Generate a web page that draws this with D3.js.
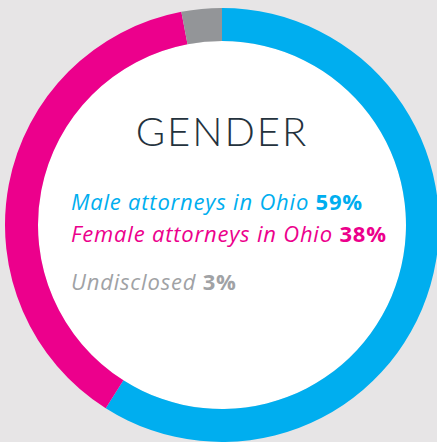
<!DOCTYPE html>
<html>
<head>
<meta charset="utf-8">
<script src="https://cdn.jsdelivr.net/npm/d3@7"></script>
<style>
  body { margin: 0; background: #e7e5e6; }
  svg { display: block; }
</style>
</head>
<body>
<div class="chart"></div>
<script>
// data
const categories = ["Male attorneys in Ohio", "Female attorneys in Ohio", "Undisclosed"];
const values = [59, 38, 3];
const colors = ["#00aeef", "#ec008c", "#939598"];
const textColors = ["#00aeef", "#ec008c", "#a0a2a5"];
const title = "GENDER";

const width = 437, height = 442;
const cx = 222, cy = 225;
const outerR = 217, innerR = 184;

const svg = d3.select(".chart").append("svg")
    .attr("width", width)
    .attr("height", height);

const g = svg.append("g")
    .attr("transform", `translate(${cx},${cy})`);

// white centre
g.append("circle")
    .attr("r", innerR)
    .attr("fill", "#ffffff");

const pie = d3.pie().sort(null).value(d => d.value);
const arc = d3.arc().innerRadius(innerR).outerRadius(outerR);

const data = categories.map((c, i) => ({ name: c, value: values[i], color: colors[i] }));

g.selectAll("path.slice")
    .data(pie(data))
    .join("path")
    .attr("class", "slice")
    .attr("d", arc)
    .attr("fill", d => d.data.color);

// title
svg.append("text")
    .attr("x", cx)
    .attr("y", 146)
    .attr("text-anchor", "middle")
    .attr("font-family", "Lato, sans-serif")
    .attr("font-weight", 300)
    .attr("font-size", 40)
    .attr("letter-spacing", 2)
    .attr("fill", "#24323d")
    .text(title);

// legend lines
const lineY = [210, 242, 290];
const legend = svg.selectAll("text.legend")
    .data(data)
    .join("text")
    .attr("class", "legend")
    .attr("x", 71)
    .attr("y", (d, i) => lineY[i])
    .attr("font-family", "'Open Sans', sans-serif")
    .attr("font-size", 22)
    .attr("letter-spacing", 0.8)
    .attr("fill", (d, i) => textColors[i]);

legend.append("tspan")
    .attr("font-style", "italic")
    .attr("font-weight", 400)
    .text(d => d.name + " ");

legend.append("tspan")
    .attr("font-weight", 700)
    .text(d => d.value + "%");
</script>
</body>
</html>
